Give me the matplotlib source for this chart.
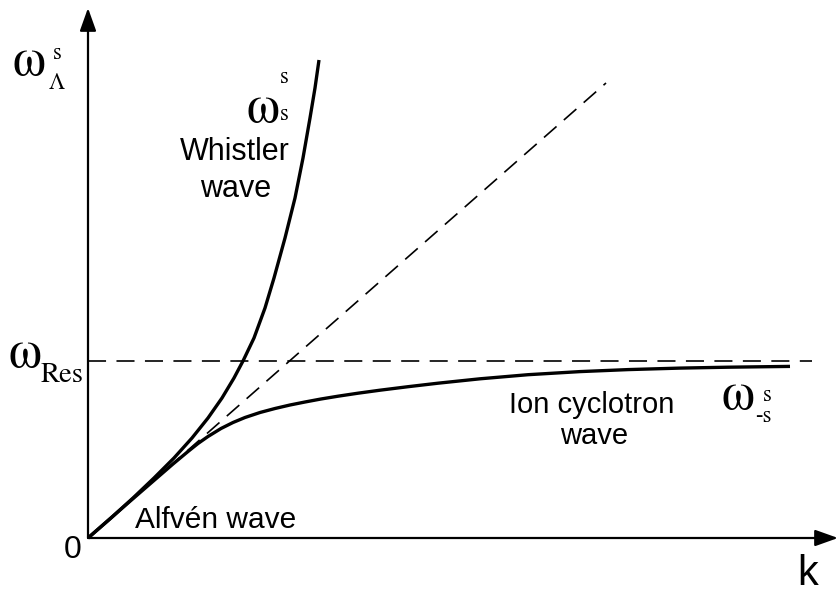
import matplotlib
matplotlib.use("Agg")
import matplotlib.pyplot as plt

# ---- data (k, omega), origin at the axes corner ----
whistler_k = [0, 23, 45, 66, 86, 104, 120, 134, 146, 155, 166, 177, 186, 197, 207, 215, 222, 227, 231]
whistler_w = [0, 20, 40, 60, 80, 100, 120, 140, 160, 177, 200, 230, 260, 300, 340, 380, 420, 450, 478]

ion_k = [0, 40, 70, 85, 100, 110, 120, 133, 145, 157, 172, 187, 202, 217, 233, 250,
         270, 292, 320, 350, 392, 440, 492, 540, 592, 640, 702]
ion_w = [0, 35, 61, 74, 86.5, 94.5, 101.5, 109.5, 115.5, 120.5, 125.5, 129.5, 133, 136,
         139, 141.8, 144.8, 147.8, 151.3, 154.8, 159.2, 163.3, 166.4, 168.4, 169.9, 170.8, 171.6]

alfven_k = [0, 518]
alfven_w = [0, 455]

w_res = 177
res_k = [0, 724]

k_max = 750
w_max = 530

plt.rcParams['lines.scale_dashes'] = False

fig = plt.figure(figsize=(8.37, 5.94), dpi=100)
ax = fig.add_axes([0, 0, 1, 1])
ax.set_xlim(-88, 749)
ax.set_ylim(-56, 538)
ax.axis('off')

# axes with arrows
arrow = dict(arrowstyle='-|>,head_length=0.7,head_width=0.25', lw=1.6,
             color='black', mutation_scale=20, shrinkA=0, shrinkB=0)
ax.annotate('', xy=(0, w_max), xytext=(0, 0), arrowprops=arrow, annotation_clip=False)
ax.annotate('', xy=(k_max, 0), xytext=(0, 0), arrowprops=arrow, annotation_clip=False)

# dashed reference lines
ax.plot(alfven_k, alfven_w, color='black', lw=1.2, dashes=(12, 7))
ax.plot(res_k, [w_res, w_res], color='black', lw=1.2, dashes=(13, 7.5))

# dispersion branches
ax.plot(whistler_k, whistler_w, color='black', lw=2.4, solid_joinstyle='round',
        solid_capstyle='butt')
ax.plot(ion_k, ion_w, color='black', lw=2.4, solid_joinstyle='round',
        solid_capstyle='butt')

serif = ['STIXGeneral', 'Liberation Serif', 'DejaVu Serif']
sans = 'Liberation Sans'
WSIZE = 38
SSIZE = 16.5

def px(x, y):
    return x - 88, 538 - y

# omega_Lambda^s
ax.text(*px(29, 75), 'ω', family=serif, fontsize=WSIZE, ha='center', va='baseline')
ax.text(*px(57.5, 59), 's', family=serif, fontsize=SSIZE, ha='center', va='baseline')
ax.text(*px(57, 89), 'Λ', family=serif, fontsize=SSIZE, ha='center', va='baseline')

# omega_Res
ax.text(*px(25, 367), 'ω', family=serif, fontsize=WSIZE, ha='center', va='baseline')
ax.text(*px(41, 382), 'Res', family=serif, fontsize=20.5, ha='left', va='baseline')

# omega_s^s
ax.text(*px(262.5, 122), 'ω', family=serif, fontsize=WSIZE, ha='center', va='baseline')
ax.text(*px(284, 83), 's', family=serif, fontsize=SSIZE, ha='center', va='baseline')
ax.text(*px(284, 120), 's', family=serif, fontsize=SSIZE, ha='center', va='baseline')

# omega_-s^s
ax.text(*px(738, 409), 'ω', family=serif, fontsize=WSIZE, ha='center', va='baseline')
ax.text(*px(767, 401), 's', family=serif, fontsize=SSIZE, ha='center', va='baseline')
ax.text(*px(763.5, 422), '-s', family=serif, fontsize=SSIZE, ha='center', va='baseline')

# wave labels
ax.text(*px(235, 160), 'Whistler', family=sans, fontsize=22, ha='center', va='baseline')
ax.text(*px(236, 197), 'wave', family=sans, fontsize=22, ha='center', va='baseline')
ax.text(*px(591.5, 413), 'Ion cyclotron', family=sans, fontsize=21, ha='center', va='baseline')
ax.text(*px(594, 444), 'wave', family=sans, fontsize=21, ha='center', va='baseline')
ax.text(*px(135, 528), 'Alfvén wave', family=sans, fontsize=21.5, ha='left', va='baseline')

# axis labels
ax.text(*px(72.5, 558), '0', family=sans, fontsize=23, ha='center', va='baseline')
ax.text(*px(807.5, 585), 'k', family=sans, fontsize=30, ha='center', va='baseline')

fig.savefig('out.png', dpi=100)
